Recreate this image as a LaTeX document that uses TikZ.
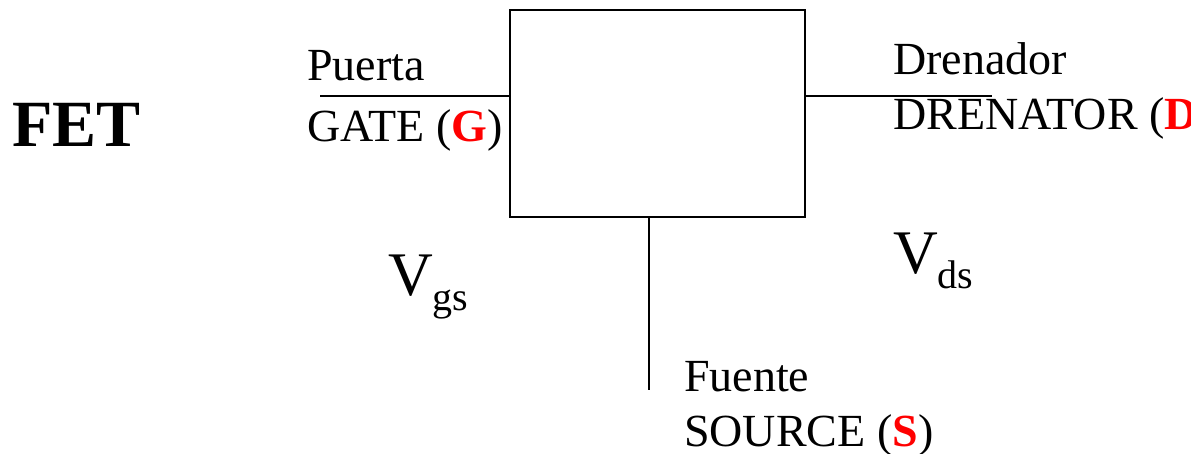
\documentclass[tikz,border=0pt]{standalone}
\usepackage{fontspec}
\setmainfont{Liberation Serif}
\definecolor{termred}{RGB}{255,0,0}
\newcommand{\term}[1]{{\bfseries\color{termred}#1}}
\tikzset{
  lbl/.style={anchor=base west, inner sep=0pt, font=\fontsize{46}{46}\selectfont},
  volt/.style={anchor=base west, inner sep=0pt, font=\fontsize{62}{62}\selectfont},
  wire/.style={line width=1.5pt}
}
\begin{document}
\begin{tikzpicture}[x=1pt, y=-1pt]
\useasboundingbox (0,0) rectangle (1191,454);
\node[draw, line width=1.5pt, minimum width=295pt, minimum height=207pt, inner sep=0pt] (box) at (657.5,113.5) {};

\coordinate (gend) at (320,96);
\coordinate (dend) at (992,96);
\coordinate (send) at (649,390);
\draw[wire] (gend) -- (gend -| box.west);
\draw[wire] (dend -| box.east) -- (dend);
\draw[wire] (send |- box.south) -- (send);

\node[anchor=base west, inner sep=0pt, font=\fontsize{66}{66}\selectfont\bfseries] (fet) at (12,147) {FET};
\node[lbl] (gname) at (307,81) {Puerta};
\node[lbl] (gate) at (307,142) {GATE (\term{G})};
\node[lbl] (dname) at (893,75) {Drenador};
\node[lbl] (drain) at (893,130) {DRENATOR (\term{D})};
\node[lbl] (sname) at (684,391) {Fuente};
\node[lbl] (source) at (684,446) {SOURCE (\term{S})};
\node[volt] (vgs) at (388,295) {V\raisebox{-15pt}{\fontsize{40}{40}\selectfont gs}};
\node[volt] (vds) at (893,273) {V\raisebox{-15pt}{\fontsize{40}{40}\selectfont ds}};
\end{tikzpicture}
\end{document}
